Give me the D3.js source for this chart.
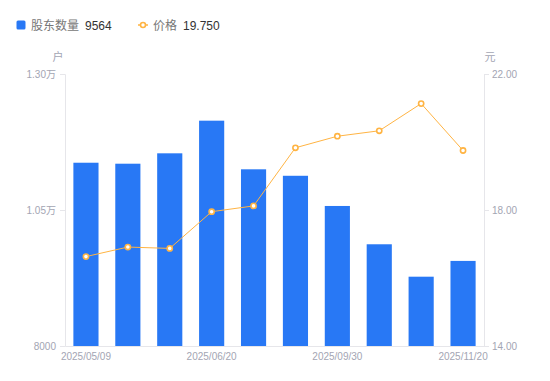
<!DOCTYPE html>
<html>
<head>
<meta charset="utf-8">
<script src="https://cdn.jsdelivr.net/npm/d3@7"></script>
<style>
  body { margin: 0; background: #fff; }
  svg text { font-family: "Liberation Sans", Arial, "Noto Sans CJK SC", sans-serif; }
</style>
</head>
<body>
<div id="chart"></div>
<script>
// chart data
const dates = ["2025/05/09", "2025/05/20", "2025/05/30", "2025/06/20", "2025/06/30",
               "2025/08/31", "2025/09/30", "2025/10/20", "2025/10/31", "2025/11/20"];
const holders = [11369, 11351, 11542, 12142, 11248, 11129, 10574, 9870, 9274, 9564];
const prices = [16.63, 16.91, 16.87, 17.95, 18.12, 19.83, 20.17, 20.33, 21.13, 19.75];
const leftTicks = [8000, 10500, 13000];
const leftTickLabels = ["8000", "1.05万", "1.30万"];
const rightTicks = [14, 18, 22];
const shownDates = ["2025/05/09", "2025/06/20", "2025/09/30", "2025/11/20"];

const width = 550, height = 381;
const margin = { top: 74, right: 66, bottom: 35, left: 65 };

const barColor = "#2878f5";
const lineColor = "#ffb443";
const axisColor = "#e6e6ea";
const labelColor = "#a3a5b3";

const svg = d3.select("#chart").append("svg")
  .attr("width", width)
  .attr("height", height);

const x = d3.scaleBand()
  .domain(dates)
  .range([margin.left, width - margin.right])
  .paddingInner(0.4)
  .paddingOuter(0.2);

const yLeft = d3.scaleLinear()
  .domain([8000, 13000])
  .range([height - margin.bottom, margin.top]);

const yRight = d3.scaleLinear()
  .domain([14, 22])
  .range([height - margin.bottom, margin.top]);

// bars
svg.selectAll("rect.bar")
  .data(holders)
  .enter()
  .append("rect")
  .attr("class", "bar")
  .attr("x", (d, i) => x(dates[i]))
  .attr("y", d => yLeft(d))
  .attr("width", x.bandwidth())
  .attr("height", d => yLeft(8000) - yLeft(d))
  .attr("fill", barColor);

// left axis
const leftAxis = svg.append("g")
  .attr("transform", `translate(${margin.left},0)`)
  .call(d3.axisLeft(yLeft).tickValues(leftTicks)
    .tickFormat((d, i) => leftTickLabels[i]).tickSize(5).tickPadding(4));

// right axis
const rightAxis = svg.append("g")
  .attr("transform", `translate(${width - margin.right},0)`)
  .call(d3.axisRight(yRight).tickValues(rightTicks)
    .tickFormat(d3.format(".2f")).tickSize(5).tickPadding(3));

// bottom axis
const bottomAxis = svg.append("g")
  .attr("transform", `translate(0,${height - margin.bottom})`)
  .call(d3.axisBottom(x).tickValues(shownDates).tickSize(0).tickPadding(7));

[leftAxis, rightAxis, bottomAxis].forEach(g => {
  g.select(".domain").attr("stroke", axisColor);
  g.selectAll(".tick line").attr("stroke", axisColor);
  g.selectAll(".tick text").attr("fill", labelColor).style("font-size", "10px");
});

// price line
const line = d3.line()
  .x((d, i) => x(dates[i]) + x.bandwidth() / 2)
  .y(d => yRight(d));

svg.append("path")
  .datum(prices)
  .attr("d", line)
  .attr("fill", "none")
  .attr("stroke", lineColor)
  .attr("stroke-width", 1);

svg.selectAll("circle.pt")
  .data(prices)
  .enter()
  .append("circle")
  .attr("class", "pt")
  .attr("cx", (d, i) => x(dates[i]) + x.bandwidth() / 2)
  .attr("cy", d => yRight(d))
  .attr("r", 2.6)
  .attr("fill", "#fff")
  .attr("stroke", lineColor)
  .attr("stroke-width", 1.6);

// unit labels
svg.append("text")
  .attr("x", 58).attr("y", 61)
  .attr("text-anchor", "middle")
  .attr("fill", labelColor)
  .style("font-size", "11px")
  .text("户");

svg.append("text")
  .attr("x", 490).attr("y", 61)
  .attr("text-anchor", "middle")
  .attr("fill", labelColor)
  .style("font-size", "11px")
  .text("元");

// legend
const legend = svg.append("g");
legend.append("rect")
  .attr("x", 16.5).attr("y", 20.5)
  .attr("width", 9).attr("height", 9)
  .attr("rx", 1.5)
  .attr("fill", barColor);
legend.append("text")
  .attr("x", 31).attr("y", 29.5)
  .attr("fill", "#777")
  .style("font-size", "12px")
  .text("股东数量");
legend.append("text")
  .attr("x", 85).attr("y", 29.5)
  .attr("fill", "#333")
  .style("font-size", "12px")
  .text(holders[holders.length - 1]);

legend.append("line")
  .attr("x1", 138).attr("x2", 148)
  .attr("y1", 25).attr("y2", 25)
  .attr("stroke", lineColor)
  .attr("stroke-width", 1.5);
legend.append("circle")
  .attr("cx", 143).attr("cy", 25)
  .attr("r", 2.5)
  .attr("fill", "#fff")
  .attr("stroke", lineColor)
  .attr("stroke-width", 1.6);
legend.append("text")
  .attr("x", 153).attr("y", 29.5)
  .attr("fill", "#777")
  .style("font-size", "12px")
  .text("价格");
legend.append("text")
  .attr("x", 183).attr("y", 29.5)
  .attr("fill", "#333")
  .style("font-size", "12px")
  .text(d3.format(".3f")(prices[prices.length - 1]));
</script>
</body>
</html>
